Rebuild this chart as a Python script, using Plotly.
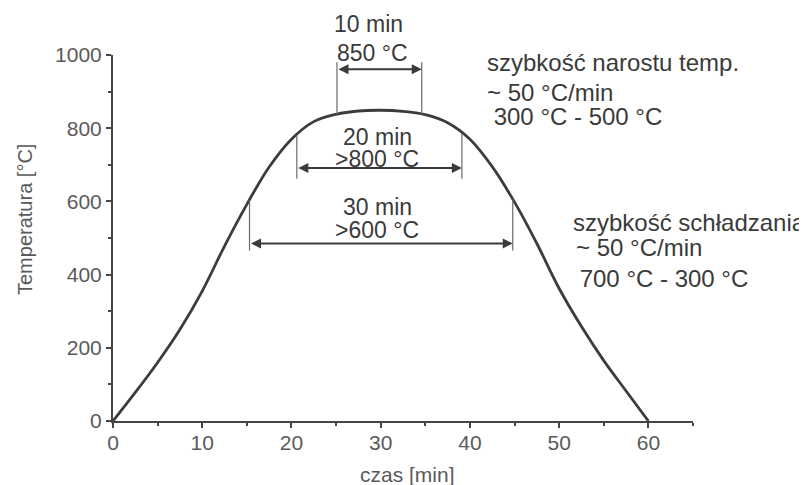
import numpy as np
import plotly.graph_objects as go

# ---- data ----
time_min = [0, 2.5, 5, 7.5, 10, 12.5, 15, 17.5, 20, 22.5, 25, 27.5, 30,
            32.5, 35, 37.5, 40, 42.5, 45, 47.5, 50, 52.5, 55, 57.5, 60]
temp_c = [0, 78, 160, 250, 355, 478, 592, 694, 770, 818, 838, 847, 849,
          846, 837, 815, 770, 695, 598, 485, 362, 258, 165, 82, 0]

# holding spans: start / end time and threshold temperature
span_start = [25.1, 20.6, 15.3]
span_end = [34.6, 39.1, 44.8]
span_temp = [850, 800, 600]
span_label_time = ["10 min", "20 min", "30 min"]
span_label_temp = ["850 °C", ">800 °C", ">600 °C"]

x_ticks = [0, 10, 20, 30, 40, 50, 60]
y_ticks = [0, 200, 400, 600, 800, 1000]

heat_lines = ["szybkość narostu temp.", "~ 50 °C/min", " 300 °C - 500 °C"]
cool_lines = ["szybkość schładzania", "~ 50 °C/min", " 700 °C - 300 °C"]

x_title = "czas [min]"
y_title = "Temperatura [°C]"

# ---- style / layout ----
FONT = "Arial, Liberation Sans, sans-serif"
AX = "#454545"
TXT = "#3a3a3a"
TICK = "#5a5a5a"
OFF = 8                      # page body margin of the browser
W, H = 807 - OFF, 485 - OFF
L, R, T, B = 113 - OFF, 114, 55 - OFF, 64
PW, PH = W - L - R, H - T - B


def px2paper(px, py):
    """screen pixel -> paper coordinates"""
    return (px - OFF - L) / PW, (H - B - (py - OFF)) / PH


fig = go.Figure()
fig.add_trace(go.Scatter(x=time_min, y=temp_c, mode="lines",
                         line=dict(color="#3c3c3c", width=2.8, shape="spline", smoothing=1.0),
                         hoverinfo="skip", showlegend=False))

# vertical marker line far ends and arrow heights (layout positions, data units)
vline_far = [980, 662, 466]
arrow_y = [961, 691, 485]
# label centers in screen pixels
label_px = [((368, 24), (372.5, 53)), ((377, 137), (377, 159)), ((377, 207), (377, 230))]

shapes = []
annotations = []
for i in range(3):
    for xv in (span_start[i], span_end[i]):
        yc = float(np.interp(xv, time_min, temp_c))
        shapes.append(dict(type="line", xref="x", yref="y", x0=xv, x1=xv,
                           y0=yc, y1=vline_far[i],
                           line=dict(color="#6a6a6a", width=1.2)))
    annotations.append(dict(x=span_end[i], y=arrow_y[i], ax=span_start[i], ay=arrow_y[i],
                            xref="x", yref="y", axref="x", ayref="y", text="",
                            showarrow=True, arrowhead=2, startarrowhead=2, arrowside="end+start",
                            arrowsize=1.0, arrowwidth=2, arrowcolor="#3a3a3a",
                            standoff=0, startstandoff=0))
    for txt, (cx, cy) in zip((span_label_time[i], span_label_temp[i]), label_px[i]):
        ppx, ppy = px2paper(cx, cy)
        annotations.append(dict(x=ppx, y=ppy, xref="paper", yref="paper", text=txt,
                                xanchor="center", yanchor="middle", showarrow=False,
                                borderpad=0,
                                font=dict(family=FONT, size=23, color=TXT)))

side_px = [(486, 62), (486, 92), (486, 117), (572, 223), (575, 247), (572, 278)]
for txt, (cx, cy) in zip(heat_lines + cool_lines, side_px):
    ppx, ppy = px2paper(cx, cy)
    annotations.append(dict(x=ppx, y=ppy, xref="paper", yref="paper", text=txt,
                            xanchor="left", yanchor="middle", showarrow=False, borderpad=0,
                            font=dict(family=FONT, size=24, color=TXT)))

# axis titles
ppx, ppy = px2paper(407, 474)
annotations.append(dict(x=ppx, y=ppy, xref="paper", yref="paper", text=x_title,
                        xanchor="center", yanchor="middle", showarrow=False,
                        font=dict(family=FONT, size=21, color=TICK)))
ppx, ppy = px2paper(25, 220)
annotations.append(dict(x=ppx, y=ppy, xref="paper", yref="paper", text=y_title, textangle=-90,
                        xanchor="center", yanchor="middle", showarrow=False,
                        font=dict(family=FONT, size=20, color=TICK)))

axis_common = dict(showgrid=False, zeroline=False, showline=True, linecolor=AX, linewidth=2,
                   ticks="outside", ticklen=5, tickwidth=2, tickcolor=AX, automargin=False,
                   tickfont=dict(family=FONT, size=21, color=TICK))

fig.update_layout(
    template="none",
    width=W, height=H,
    margin=dict(l=L, r=R, t=T, b=B, pad=0),
    paper_bgcolor="white", plot_bgcolor="white",
    shapes=shapes, annotations=annotations,
    xaxis=dict(range=[0, 65], tickvals=x_ticks, ticklabelstandoff=-3,
               minor=dict(ticks="outside", ticklen=3, tickwidth=2, tickcolor=AX, dtick=5, showgrid=False),
               **axis_common),
    yaxis=dict(range=[0, 1000], tickvals=y_ticks,
               minor=dict(ticks="outside", ticklen=3, tickwidth=2, tickcolor=AX, dtick=100, showgrid=False),
               **axis_common),
)

fig.write_html("out.html")
